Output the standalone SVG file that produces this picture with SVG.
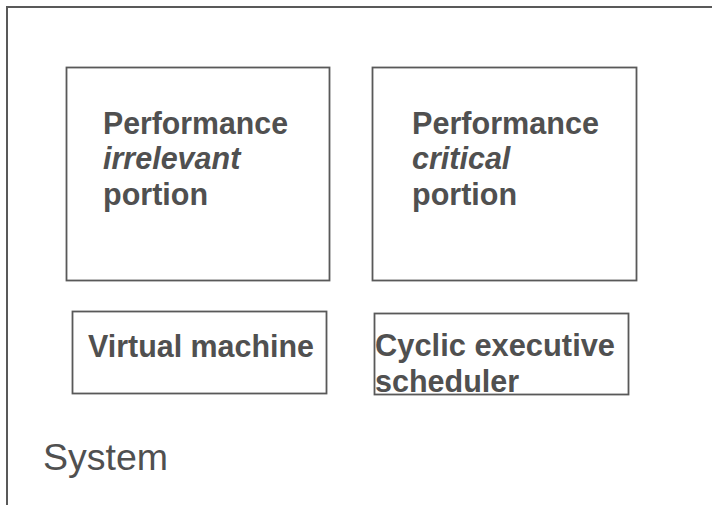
<svg xmlns="http://www.w3.org/2000/svg" width="712" height="505" viewBox="0 0 712 505">
<style>
.box{fill:#fff;stroke:#595959;stroke-width:1.8}
.outer{fill:none;stroke:#595959;stroke-width:2}
.t{font-family:"Liberation Sans",Arial,sans-serif;font-size:30.5px;font-weight:bold;fill:#505050}
.i{font-style:italic}
.sys{font-family:"Liberation Sans",Arial,sans-serif;font-size:37px;fill:#505050}
</style>
<rect width="712" height="505" fill="#fff"/>
<g id="system">
<path class="outer" d="M7,505 V7 H712"/>
<text class="sys" x="43" y="470" textLength="125" lengthAdjust="spacingAndGlyphs">System</text>
</g>
<g id="irrelevant">
<rect class="box" x="66.5" y="67.5" width="263" height="213"/>
<text class="t" x="103" y="134" textLength="185" lengthAdjust="spacingAndGlyphs">Performance</text>
<text class="t i" x="103" y="169">irrelevant</text>
<text class="t" x="103" y="205">portion</text>
</g>
<g id="critical">
<rect class="box" x="372.5" y="67.5" width="264" height="213"/>
<text class="t" x="412" y="134" textLength="187" lengthAdjust="spacingAndGlyphs">Performance</text>
<text class="t i" x="412" y="169">critical</text>
<text class="t" x="412" y="205">portion</text>
</g>
<g id="vm">
<rect class="box" x="72.5" y="311.5" width="254" height="82"/>
<text class="t" x="88" y="357" textLength="226" lengthAdjust="spacingAndGlyphs">Virtual machine</text>
</g>
<g id="scheduler">
<rect class="box" x="374.5" y="313.5" width="254" height="81"/>
<text class="t" x="375" y="356" textLength="240" lengthAdjust="spacingAndGlyphs">Cyclic executive</text>
<text class="t" x="375" y="392">scheduler</text>
</g>
<g id="connectors"></g>
</svg>
